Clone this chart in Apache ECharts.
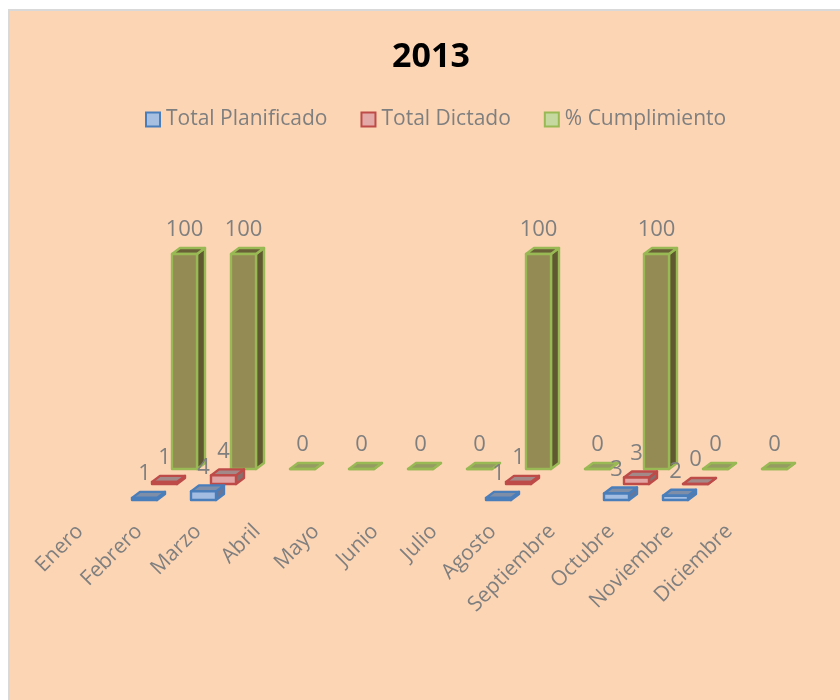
<!DOCTYPE html>
<html>
<head>
<meta charset="utf-8">
<title>2013</title>
<script src="https://cdn.jsdelivr.net/npm/echarts@6/dist/echarts.min.js"></script>
<style>
  html, body { margin: 0; padding: 0; background: #fff; overflow: hidden; }
  #panel { position: absolute; left: 8px; top: 9px; width: 840px; height: 700px; background: #fcd5b5; border: 2px solid #d9d9d9; box-sizing: border-box; }
  #chart { position: absolute; left: 0; top: 0; width: 840px; height: 700px; }
</style>
</head>
<body>
<div id="panel"></div>
<div id="chart"></div>
<script>
const months = ['Enero', 'Febrero', 'Marzo', 'Abril', 'Mayo', 'Junio', 'Julio', 'Agosto', 'Septiembre', 'Octubre', 'Noviembre', 'Diciembre'];
const planificado = [null, 1, 4, null, null, null, null, 1, null, 3, 2, null];
const dictado = [null, 1, 4, null, null, null, null, 1, null, 3, 0, null];
const cumplimiento = [null, 100, 100, 0, 0, 0, 0, 100, 0, 100, 0, 0];

const TEXT_COLOR = '#7f7f7f';
const FONT = '"Open Sans", sans-serif';
const BAR_W = 25, DEPTH_X = 8, DEPTH_Y = 6;

// fake 3D box, each series sits on its own floor row
function box3d(look) {
  return function (params, api) {
    const v = api.value(1);
    if (v == null || isNaN(v)) return;
    const base = api.coord([api.value(0), 0]);
    const top = api.coord([api.value(0), v]);
    const x = base[0] + look.dx;
    const y0 = base[1] + look.dy;
    const y1 = top[1] + look.dy;
    const line = { stroke: look.border, lineWidth: 2.4, lineJoin: 'round' };
    return {
      type: 'group',
      children: [
        {
          type: 'polygon',
          shape: { points: [[x + BAR_W, y1], [x + BAR_W + DEPTH_X, y1 - DEPTH_Y], [x + BAR_W + DEPTH_X, y0 - DEPTH_Y], [x + BAR_W, y0]] },
          style: { fill: look.side, ...line }
        },
        {
          type: 'polygon',
          shape: { points: [[x, y1], [x + DEPTH_X, y1 - DEPTH_Y], [x + BAR_W + DEPTH_X, y1 - DEPTH_Y], [x + BAR_W, y1]] },
          style: { fill: v === 0 ? look.flat : look.top, ...line }
        },
        {
          type: 'rect',
          shape: { x: x, y: y1, width: BAR_W, height: y0 - y1 },
          style: { fill: look.front, ...line }
        },
        {
          type: 'text',
          z2: 50,
          style: {
            x: x + BAR_W / 2,
            y: y1 - DEPTH_Y - 18,
            text: String(v),
            fill: TEXT_COLOR,
            font: '22px ' + FONT,
            align: 'center',
            verticalAlign: 'middle'
          }
        }
      ]
    };
  };
}

function makeSeries(name, values, z, look) {
  return {
    name: name,
    type: 'custom',
    z: z,
    clip: false,
    itemStyle: { color: look.swatch, borderColor: look.border, borderWidth: 2 },
    renderItem: box3d(look),
    encode: { x: 0, y: 1 },
    data: values.map((v, i) => [i, v])
  };
}

const chart = echarts.init(document.getElementById('chart'), null, { renderer: 'canvas' });
chart.setOption({
  animation: false,
  backgroundColor: 'transparent',
  title: {
    text: '2013',
    left: 426,
    top: 35,
    textAlign: 'center',
    textStyle: { fontFamily: FONT, fontSize: 34, fontWeight: 'bold', color: '#000' }
  },
  legend: {
    top: 104,
    left: 140,
    itemWidth: 14,
    itemHeight: 14,
    itemGap: 33,
    icon: 'rect',
    textStyle: { fontFamily: FONT, fontSize: 21, color: TEXT_COLOR, padding: [0, 0, 0, 1] },
    data: ['Total Planificado', 'Total Dictado', '% Cumplimiento']
  },
  grid: { left: 50.5, width: 708, top: 285, height: 215 },
  xAxis: {
    type: 'category',
    data: months,
    axisLine: { show: false },
    axisTick: { show: false },
    axisLabel: {
      interval: 0,
      rotate: 45,
      margin: 28,
      fontFamily: FONT,
      fontSize: 21,
      color: TEXT_COLOR
    }
  },
  yAxis: { type: 'value', min: 0, max: 100, show: false },
  series: [
    makeSeries('Total Planificado', planificado, 4, { dx: -7, dy: 0, front: '#a3bce2', top: '#7f8ea8', side: '#66769a', flat: '#7f8ea8', border: '#4a7ebb', swatch: '#a7bfe0' }),
    makeSeries('Total Dictado', dictado, 3, { dx: 13, dy: -16, front: '#e3a5a3', top: '#a38a88', side: '#85706e', flat: '#a38a88', border: '#be4b48', swatch: '#e2a9a7' }),
    makeSeries('% Cumplimiento', cumplimiento, 2, { dx: 33, dy: -31, front: '#948a54', top: '#6a6038', side: '#605830', flat: '#959b62', border: '#98b954', swatch: '#c5d89f' })
  ]
});
</script>
</body>
</html>
